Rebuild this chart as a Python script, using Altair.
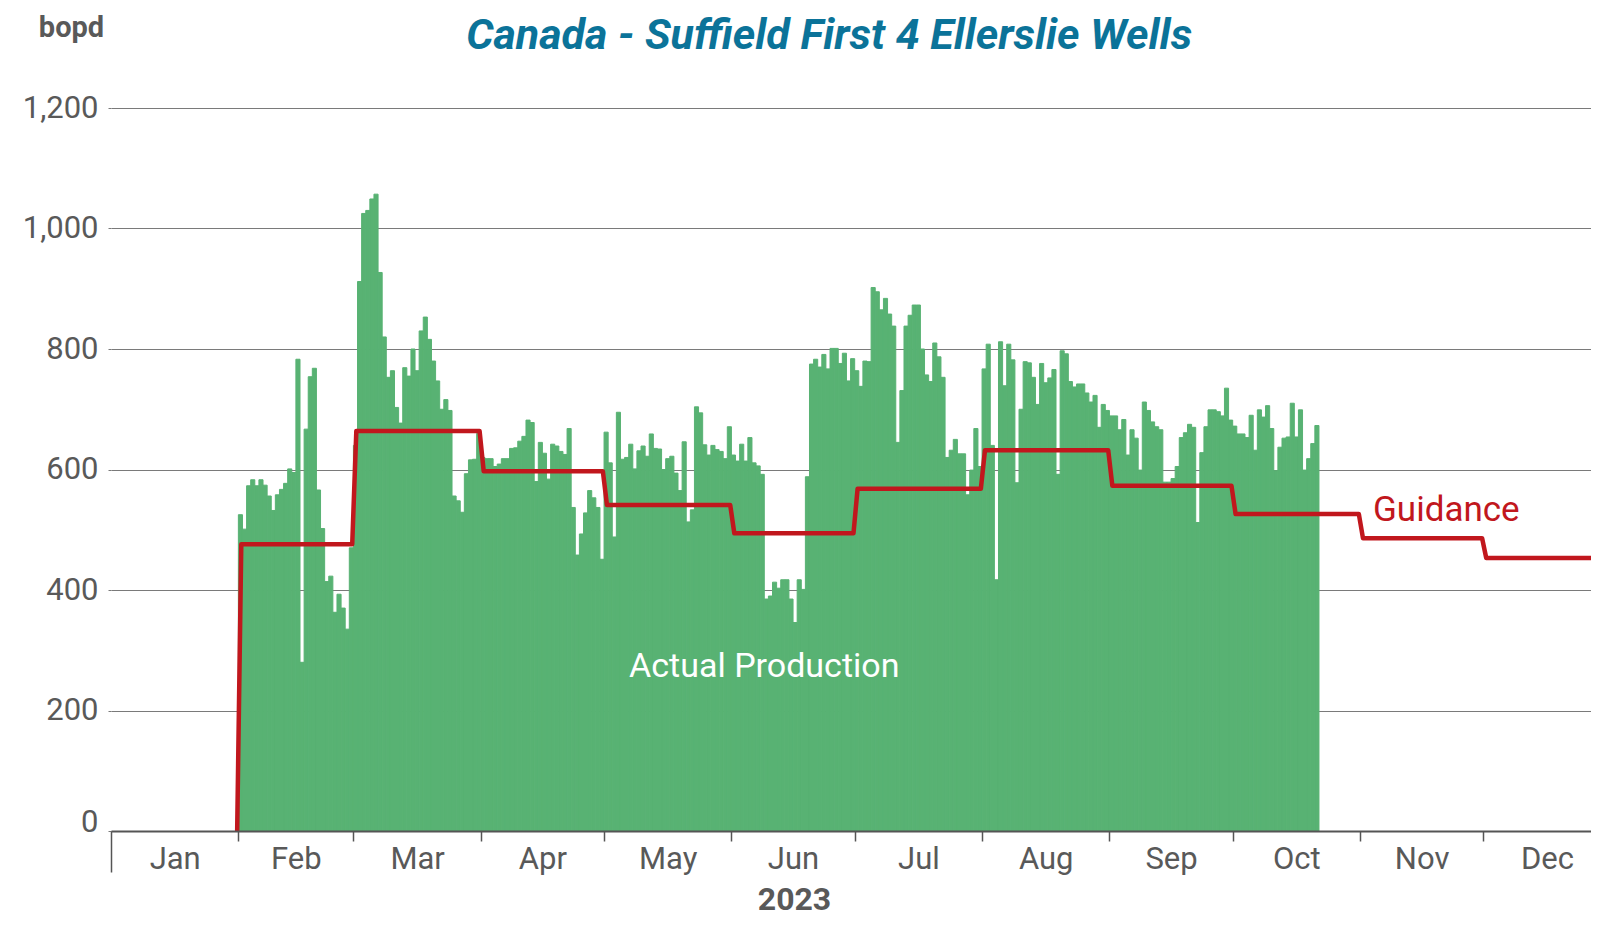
import altair as alt
import pandas as pd

# Daily production (bopd), Feb 1 - Oct 21 2023, one list per month
feb = [525, 501, 573, 583, 573, 583, 574, 556, 532, 558, 567, 577, 601, 595,
       783, 280, 667, 754, 768, 566, 502, 414, 423, 363, 393, 370, 335, 470]
mar = [640, 912, 1025, 1030, 1049, 1057, 927, 820, 753, 764, 703, 677, 769, 755,
       800, 764, 830, 853, 816, 780, 747, 700, 716, 698, 556, 548, 529, 593, 616,
       617, 660]
apr = [620, 618, 618, 605, 609, 618, 618, 635, 636, 647, 655, 682, 678, 580, 645,
       627, 584, 642, 639, 630, 625, 668, 537, 458, 493, 528, 565, 553, 537, 451]
may = [662, 611, 488, 695, 617, 620, 642, 601, 631, 639, 622, 659, 635, 634, 600,
       618, 622, 594, 565, 646, 513, 533, 704, 694, 641, 624, 640, 633, 630, 618,
       671]
jun = [624, 614, 642, 614, 653, 611, 606, 592, 385, 390, 413, 403, 417, 417, 385,
       346, 417, 401, 588, 775, 783, 770, 791, 767, 801, 801, 776, 793, 747, 784]
jul = [764, 738, 780, 779, 902, 895, 865, 884, 858, 838, 645, 731, 838, 856, 873,
       873, 800, 757, 746, 810, 787, 753, 620, 632, 650, 626, 626, 558, 599, 668,
       605]
aug = [767, 808, 640, 417, 812, 739, 808, 782, 578, 700, 779, 777, 753, 708, 776,
       744, 752, 766, 592, 797, 792, 746, 737, 742, 742, 727, 712, 723, 670, 708,
       698]
sep = [689, 689, 666, 683, 624, 666, 652, 599, 712, 698, 679, 671, 666, 579, 579,
       585, 605, 653, 661, 675, 670, 512, 628, 671, 699, 699, 696, 689, 735, 682]
octo = [672, 659, 659, 653, 690, 632, 699, 687, 706, 668, 598, 637, 652, 654, 710,
        654, 699, 599, 618, 643, 673]

# Monthly guidance (bopd), Feb - Dec
guid_months = ["2023-02-01", "2023-03-01", "2023-04-01", "2023-05-01", "2023-06-01",
               "2023-07-01", "2023-08-01", "2023-09-01", "2023-10-01", "2023-11-01",
               "2023-12-01"]
guid_vals = [476, 664, 597, 541, 494, 568, 632, 573, 526, 486, 453]

month_labels = ["Jan", "Feb", "Mar", "Apr", "May", "Jun", "Jul", "Aug", "Sep",
                "Oct", "Nov", "Dec"]

# Text annotations (placed in data coordinates)
ann_text = ["Canada - Suffield First 4 Ellerslie Wells", "Actual Production", "Guidance"]
ann_date = ["2023-06-24T19:00:00Z", "2023-06-09T00:00:00Z", "2023-11-22T00:00:00Z"]
ann_value = [1298, 255, 515]
ann_kind = ["title", "actual", "guidance"]

# ---------------------------------------------------------------------------
prod = feb + mar + apr + may + jun + jul + aug + sep + octo
days = pd.date_range("2023-02-01", periods=len(prod), freq="D")
bars_df = pd.DataFrame({
    "start": days.strftime("%Y-%m-%d"),
    "end": (days + pd.Timedelta(days=1)).strftime("%Y-%m-%d"),
    "bopd": prod,
})

rows = []
prev = 0
for m, v in zip(guid_months, guid_vals):
    t = pd.Timestamp(m)
    rows.append({"t": (t - pd.Timedelta(hours=7)).strftime("%Y-%m-%dT%H:%M:%SZ"), "v": prev})
    rows.append({"t": (t + pd.Timedelta(hours=17)).strftime("%Y-%m-%dT%H:%M:%SZ"), "v": v})
    prev = v
rows.append({"t": "2023-12-27T05:00:00Z", "v": prev})
guid_df = pd.DataFrame(rows)
guid_df["o"] = range(len(guid_df))

ann_df = pd.DataFrame({"t": ann_date, "v": ann_value, "label": ann_text, "kind": ann_kind})

FONT = "Roboto, sans-serif"
GREEN = "#58B273"
RED = "#C1171D"
GREY = "#595959"

x_scale = alt.Scale(type="utc", domain=[
    alt.DateTime(year=2023, month=1, date=1, utc=True),
    alt.DateTime(year=2023, month=12, date=27, hours=5, utc=True)])
y_scale = alt.Scale(domain=[0, 1200], nice=False)

jan_test = "utcmonth(datum.value) == 0"
x_axis = alt.Axis(
    title="2023",
    values=[alt.DateTime(year=2023, month=m, date=1, utc=True) for m in month_labels],
    labelExpr="utcFormat(datum.value, '%b')",
    labelFont=FONT, labelFontSize=31, labelColor=GREY,
    labelAlign="center", labelBaseline="alphabetic",
    labelPadding={"condition": {"test": jan_test, "value": -4}, "value": 27},
    labelOffset={"condition": [
        {"test": "utcmonth(datum.value) == 1", "value": 57.5},
        {"test": "indexof([3, 5, 8, 10], utcmonth(datum.value)) >= 0", "value": 61.6}],
        "value": 63.7},
    labelFlush=False, labelOverlap=False,
    tickSize={"condition": {"test": jan_test, "value": 41}, "value": 10},
    tickColor="#555555", tickWidth=1.5,
    domainColor="#555555", domainWidth=2,
    grid=False,
    titleFont=FONT, titleFontSize=32, titleFontWeight="bold", titleColor=GREY,
    titleX=683, titleY=78, titleAlign="center", titleBaseline="alphabetic",
    zindex=1,
)
y_axis = alt.Axis(
    values=[0, 200, 400, 600, 800, 1000, 1200], format=",d",
    labelFont=FONT, labelFontSize=31, labelColor=GREY, labelPadding=10,
    labelBaseline={"condition": {"test": "datum.value == 0", "value": "alphabetic"},
                   "value": "middle"},
    labelFlush=False,
    tickSize=3, tickColor="#7a7a7a", tickWidth=1,
    domain=False, grid=True, gridColor="#7a7a7a", gridWidth=1,
    title="bopd", titleAngle=0, titleX=-40, titleY=-72, titleAlign="center",
    titleBaseline="alphabetic", titleFont=FONT, titleFontSize=29,
    titleFontWeight="bold", titleColor=GREY,
)

X = lambda f: alt.X(f, scale=x_scale, axis=x_axis)
Y = lambda f: alt.Y(f, scale=y_scale, axis=y_axis)

bars = alt.Chart(bars_df).mark_bar(color=GREEN, stroke=GREEN, strokeWidth=1).encode(
    x=X("start:T"),
    x2="end:T",
    y=Y("bopd:Q"),
    y2=alt.datum(0),
)

guide = alt.Chart(guid_df).mark_line(color=RED, strokeWidth=4.5, strokeJoin="round").encode(
    x=X("t:T"),
    y=Y("v:Q"),
    order="o:Q",
)

def ann(kind, **style):
    return alt.Chart(ann_df).transform_filter(f"datum.kind == '{kind}'").mark_text(
        align="center", baseline="alphabetic", **style
    ).encode(x=X("t:T"), y=Y("v:Q"), text="label:N")

text_title = ann("title", font=FONT, fontSize=43, fontWeight="bold", fontStyle="italic",
                 color="#0B7399")
text_a = ann("actual", font=FONT, fontSize=34, color="white")
text_g = ann("guidance", font=FONT, fontSize=35, color=RED)

chart = alt.layer(bars, guide, text_a, text_g, text_title).properties(
    width=1480, height=723,
    autosize=alt.AutoSizeParams(type="none"),
    padding={"left": 103, "top": 100, "right": 0, "bottom": 86},
).configure_view(stroke=None)

chart.save("out.html", embed_options={"renderer": "svg", "actions": False})
